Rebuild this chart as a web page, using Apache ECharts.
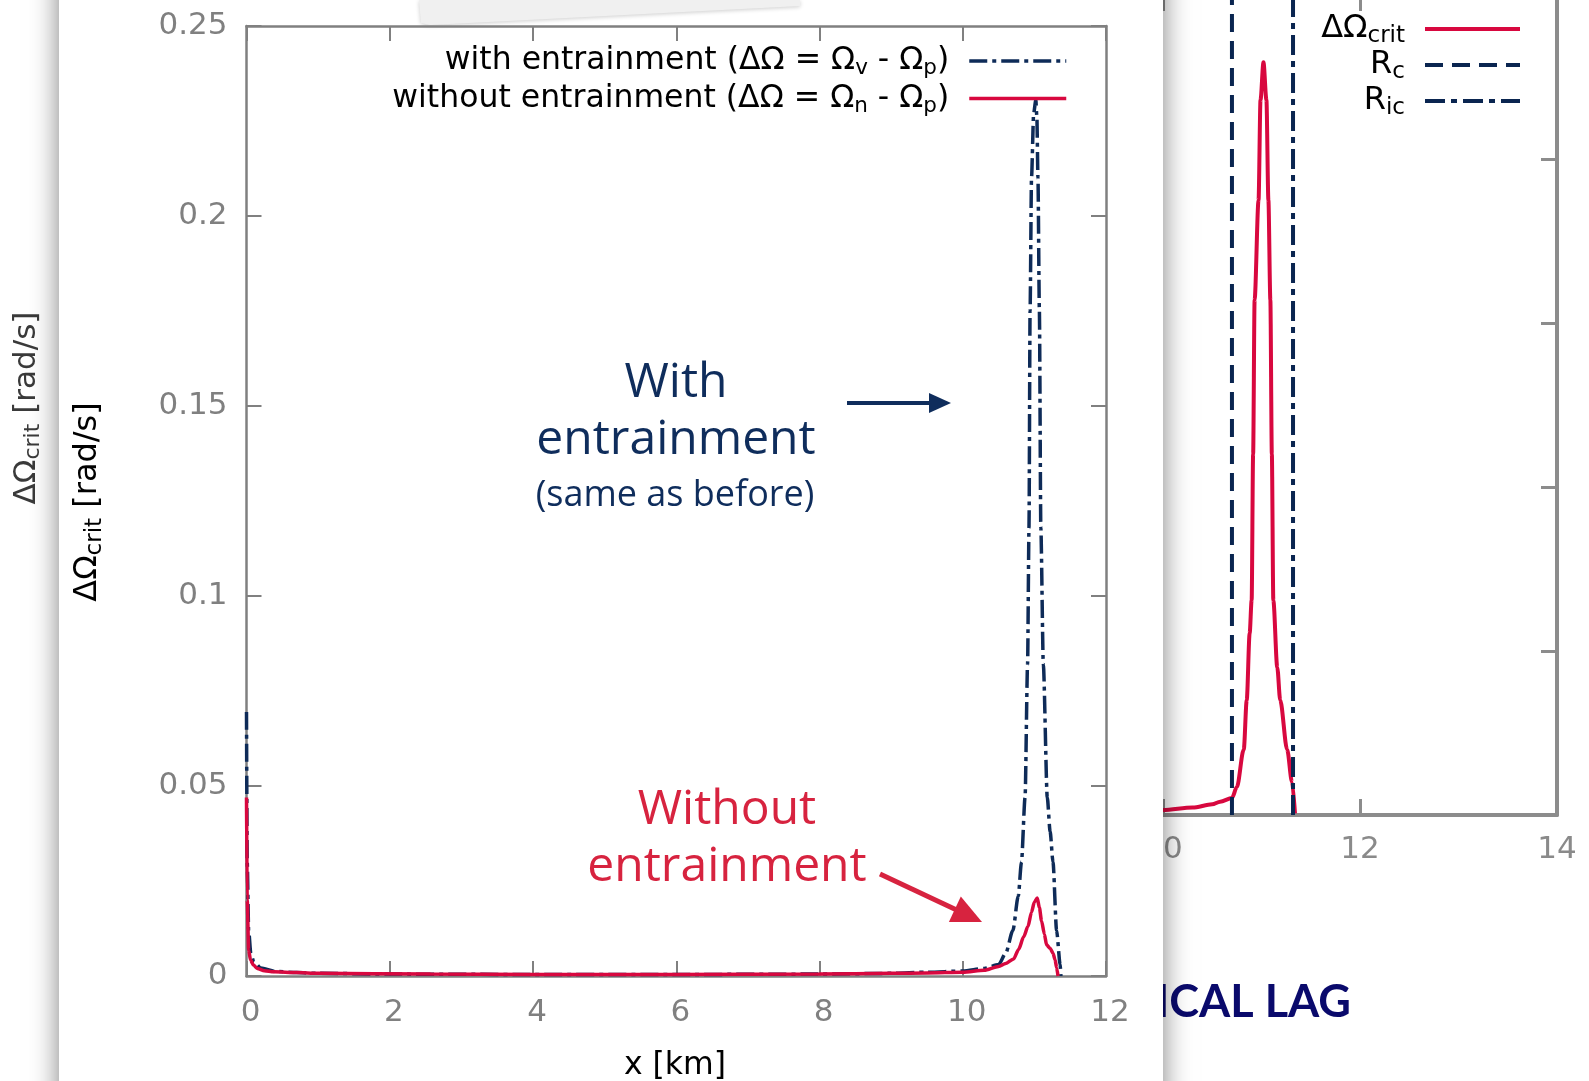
<!DOCTYPE html>
<html><head><meta charset="utf-8">
<script src="https://cdn.jsdelivr.net/npm/echarts@6/dist/echarts.min.js"></script>
<style>html,body{margin:0;padding:0;background:#fff;overflow:hidden}#c{width:1589px;height:1081px}</style>
</head><body><div id="c"></div>
<script>
// ---- data ----
const xTicks = [0, 2, 4, 6, 8, 10, 12];
const yTicks = [0, 0.05, 0.1, 0.15, 0.2, 0.25];
const bgXTicks = [8, 10, 12, 14];
const bgYTicks = [0, 1, 2, 3, 4, 5];

const withX = [0, 0.01, 0.03, 0.06, 0.1, 0.2, 0.4, 0.7, 1, 2, 4, 6, 8, 9, 9.5, 10, 10.3, 10.5, 10.6, 10.7, 10.775, 10.82, 10.87, 10.905, 10.925, 10.94, 10.96, 10.99, 11.02, 11.035, 11.05, 11.07, 11.09, 11.125, 11.18, 11.22, 11.26, 11.31, 11.36, 11.37];
const withY = [0.0695, 0.03, 0.012, 0.006, 0.0038, 0.0021, 0.0012, 0.0009, 0.0007, 0.0005, 0.0004, 0.0004, 0.0005, 0.0007, 0.001, 0.0013, 0.002, 0.003, 0.006, 0.012, 0.021, 0.03, 0.047, 0.082, 0.118, 0.175, 0.21, 0.227, 0.2305, 0.226, 0.21, 0.175, 0.118, 0.082, 0.047, 0.038, 0.03, 0.012, 0.003, 0];

const withoutX = [0, 0.01, 0.03, 0.056, 0.1, 0.15, 0.25, 0.38, 0.7, 1, 2.57, 4, 6, 8, 9, 9.5, 10, 10.3, 10.5, 10.6, 10.71, 10.78, 10.85, 10.91, 10.96, 11.0, 11.04, 11.07, 11.1, 11.14, 11.17, 11.22, 11.26, 11.29, 11.31, 11.33];
const withoutY = [0.047, 0.02, 0.0068, 0.0042, 0.0028, 0.002, 0.0014, 0.0011, 0.0009, 0.0007, 0.0005, 0.0004, 0.0004, 0.0005, 0.0007, 0.0008, 0.001, 0.0015, 0.0025, 0.0033, 0.0045, 0.007, 0.0103, 0.013, 0.0168, 0.0195, 0.0205, 0.018, 0.0145, 0.011, 0.0082, 0.0073, 0.006, 0.0042, 0.0022, 0];

// background slide chart (partly hidden)
const bgCritX = [8, 9, 10, 10.3, 10.5, 10.58, 10.7, 10.75, 10.82, 10.85, 10.88, 10.9, 10.915, 10.93, 10.97, 10.99, 11.02, 11.05, 11.07, 11.09, 11.105, 11.12, 11.16, 11.19, 11.26, 11.31, 11.34];
const bgCritY = [0.02, 0.025, 0.03, 0.045, 0.065, 0.081, 0.104, 0.17, 0.40, 0.70, 1.11, 1.31, 2.2, 3.14, 3.75, 4.36, 4.59, 4.36, 3.75, 3.14, 2.2, 1.31, 0.90, 0.70, 0.40, 0.20, 0.01];
const rcX = 10.70;
const ricX = 11.32;

const zip = (xs, ys) => xs.map((x, i) => [x, ys[i]]);
const step = a => a[1] - a[0];

const GRAY = '#808080';
const NAVY = '#0e2b58';
const RED = '#d8083f';
const DV = 'DejaVu Sans';
const TICK_FS = 31;

function axisBase(extra) {
  return Object.assign({
    type: 'value',
    axisLine: { show: true, onZero: false, lineStyle: { color: GRAY, width: 2.5 } },
    axisTick: { show: true, inside: true, length: 15, lineStyle: { color: GRAY, width: 2 } },
    axisLabel: { show: true, color: GRAY, fontSize: TICK_FS, fontFamily: DV, showMinLabel: true, showMaxLabel: true },
    splitLine: { show: false },
    z: 10
  }, extra);
}
function bgAxis(extra) {
  return Object.assign({
    type: 'value',
    axisLine: { show: true, onZero: false, lineStyle: { color: '#8c8c8c', width: 4 } },
    axisTick: { show: true, inside: true, length: 16, lineStyle: { color: '#8c8c8c', width: 3 } },
    axisLabel: { show: false },
    splitLine: { show: false },
    z: 0
  }, extra);
}

const subRich = (fs, pad) => ({ fontSize: fs, fontFamily: DV, color: '#000', padding: [pad, 0, 0, 0] });

const chart = echarts.init(document.getElementById('c'), null, { renderer: 'canvas' });

function arrow(x1, y1, x2, y2, shaftW, headL, headW, color, z) {
  const dx = x2 - x1, dy = y2 - y1, L = Math.hypot(dx, dy);
  const ux = dx / L, uy = dy / L, nx = -uy, ny = ux;
  const bx = x2 - ux * headL, by = y2 - uy * headL;
  return [
    { type: 'line', z: z, shape: { x1: x1, y1: y1, x2: bx + ux * 2, y2: by + uy * 2 }, style: { stroke: color, lineWidth: shaftW } },
    { type: 'polygon', z: z, shape: { points: [[x2, y2], [bx + nx * headW, by + ny * headW], [bx - nx * headW, by - ny * headW]] }, style: { fill: color } }
  ];
}

function txt(x, y, text, size, color, family, z, extra) {
  return Object.assign({
    type: 'text', x: x, y: y, z: z,
    style: { text: text, fontSize: size, fontFamily: family, fill: color,
             align: 'center', verticalAlign: 'middle', textAlign: 'center', textVerticalAlign: 'middle' }
  }, extra || {});
}

const option = {
  animation: false,
  backgroundColor: '#ffffff',
  grid: [
    { left: 246.5, right: 483, top: 26, bottom: 105, containLabel: false, outerBoundsMode: 'none' },
    { left: 966, right: 32, top: -5, bottom: 266, containLabel: false, outerBoundsMode: 'none' }
  ],
  xAxis: [
    axisBase({ gridIndex: 0, position: 'bottom', min: xTicks[0], max: xTicks[xTicks.length - 1], interval: step(xTicks),
               axisLabel: { color: GRAY, fontSize: TICK_FS, fontFamily: DV, margin: 21, padding: [0, 0, 0, 8], showMinLabel: true, showMaxLabel: true } }),
    axisBase({ gridIndex: 0, position: 'top', min: xTicks[0], max: xTicks[xTicks.length - 1], interval: step(xTicks), axisLabel: { show: false } }),
    bgAxis({ gridIndex: 1, position: 'bottom', min: bgXTicks[0], max: bgXTicks[bgXTicks.length - 1], interval: step(bgXTicks),
             axisLabel: { show: true, color: '#8a8a8a', fontSize: TICK_FS, fontFamily: DV, margin: 19, showMinLabel: true, showMaxLabel: true } }),
    bgAxis({ gridIndex: 1, position: 'top', min: bgXTicks[0], max: bgXTicks[bgXTicks.length - 1], interval: step(bgXTicks) })
  ],
  yAxis: [
    axisBase({ gridIndex: 0, position: 'left', min: yTicks[0], max: yTicks[yTicks.length - 1], interval: step(yTicks),
               axisLabel: { color: GRAY, fontSize: TICK_FS, fontFamily: DV, margin: 19, showMinLabel: true, showMaxLabel: true } }),
    axisBase({ gridIndex: 0, position: 'right', min: yTicks[0], max: yTicks[yTicks.length - 1], interval: step(yTicks), axisLabel: { show: false } }),
    bgAxis({ gridIndex: 1, position: 'left', min: bgYTicks[0], max: bgYTicks[bgYTicks.length - 1], interval: step(bgYTicks) }),
    bgAxis({ gridIndex: 1, position: 'right', min: bgYTicks[0], max: bgYTicks[bgYTicks.length - 1], interval: step(bgYTicks) })
  ],
  legend: [
    {
      data: ['with', 'without'], orient: 'vertical', right: 516, top: 40, align: 'right',
      itemWidth: 97, itemHeight: 12, itemGap: 3, selectedMode: false, z: 20,
      itemStyle: { opacity: 0 }, lineStyle: { width: 3.5 },
      formatter: n => n === 'with'
        ? '{t|with entrainment (ΔΩ = Ω}{s|v}{t| - Ω}{s|p}{t|)}'
        : '{t|without entrainment (ΔΩ = Ω}{s|n}{t| - Ω}{s|p}{t|)}',
      textStyle: { color: '#000', fontFamily: DV, fontSize: 31.5, padding: [0, 15, 0, 0],
        rich: { t: { fontSize: 31.5, fontFamily: DV, color: '#000' }, s: subRich(21.5, 15) } }
    },
    {
      data: ['bgCrit', 'bgRc', 'bgRic'], orient: 'vertical', right: 62, top: 8, align: 'right',
      itemWidth: 95, itemHeight: 12, itemGap: 1, selectedMode: false, z: 3,
      itemStyle: { opacity: 0 }, lineStyle: { width: 4 },
      formatter: n => n === 'bgCrit' ? '{t|ΔΩ}{s|crit}' : (n === 'bgRc' ? '{t|R}{s|c}' : '{t|R}{s|ic}'),
      textStyle: { color: '#000', fontFamily: DV, fontSize: 32, padding: [0, 15, 0, 0],
        rich: { t: { fontSize: 32, fontFamily: DV, color: '#000' }, s: subRich(23, 15) } }
    }
  ],
  series: [
    { name: 'bgCrit', type: 'line', xAxisIndex: 2, yAxisIndex: 2, data: zip(bgCritX, bgCritY), symbol: 'none', showSymbol: false,
      smooth: 0.3, smoothMonotone: 'x', lineStyle: { color: RED, width: 4 }, itemStyle: { color: RED }, z: 1 },
    { name: 'bgRc', type: 'line', xAxisIndex: 2, yAxisIndex: 2, data: [[rcX, bgYTicks[0]], [rcX, bgYTicks[bgYTicks.length - 1]]], symbol: 'none', showSymbol: false,
      lineStyle: { color: '#0a2550', width: 4, type: [18, 9] }, itemStyle: { color: '#0a2550' }, z: 1 },
    { name: 'bgRic', type: 'line', xAxisIndex: 2, yAxisIndex: 2, data: [[ricX, bgYTicks[0]], [ricX, bgYTicks[bgYTicks.length - 1]]], symbol: 'none', showSymbol: false,
      lineStyle: { color: '#0a2550', width: 4, type: [20, 6, 6, 6] }, itemStyle: { color: '#0a2550' }, z: 1 },
    { name: 'with', type: 'line', xAxisIndex: 0, yAxisIndex: 0, data: zip(withX, withY), symbol: 'none', showSymbol: false,
      smooth: 0.25, smoothMonotone: 'x', lineStyle: { color: NAVY, width: 3.5, type: [18, 5, 4, 5] }, itemStyle: { color: NAVY }, z: 11 },
    { name: 'without', type: 'line', xAxisIndex: 0, yAxisIndex: 0, data: zip(withoutX, withoutY), symbol: 'none', showSymbol: false,
      smooth: 0.25, smoothMonotone: 'x', lineStyle: { color: RED, width: 3.5 }, itemStyle: { color: RED }, z: 12 }
  ],
  graphic: { elements: [] }
};

const G = option.graphic.elements;
// background slide texts (under the card)
G.push({ type: 'text', x: 27, y: 408, z: 1, rotation: Math.PI / 2,
  style: { text: '{a|ΔΩ}{s|crit}{a| [rad/s]}', fontSize: 31, fontFamily: DV, fill: '#3a3a3a', align: 'center', verticalAlign: 'middle', textAlign: 'center', textVerticalAlign: 'middle',
    rich: { a: { fontSize: 31, fontFamily: DV, fill: '#3a3a3a', color: '#3a3a3a' }, s: { fontSize: 22, fontFamily: DV, fill: '#3a3a3a', color: '#3a3a3a', padding: [13, 0, 0, 0] } } } });
G.push({ type: 'text', x: 1156, y: 1002, z: 1,
  style: { text: 'ICAL LAG', fontSize: 45, fontWeight: 'bold', fontFamily: 'Lato', fill: '#0a0a6c', align: 'left', verticalAlign: 'middle', textAlign: 'left', textVerticalAlign: 'middle' } });
// foreground card
G.push({ type: 'rect', z: 5, shape: { x: 59, y: -80, width: 1104, height: 1250 },
  style: { fill: '#ffffff', shadowBlur: 26, shadowColor: 'rgba(0,0,0,0.5)', shadowOffsetX: 0, shadowOffsetY: 0 } });
// paper scrap at top
G.push({ type: 'polygon', z: 7, shape: { points: [[419, 0], [800, 0], [800, 6], [430, 25], [421, 23]] },
  style: { fill: '#f0f0f0', shadowBlur: 4, shadowColor: 'rgba(0,0,0,0.2)', shadowOffsetY: 1 } });
// axis titles of the foreground chart
G.push({ type: 'text', x: 88, y: 502, z: 20, rotation: Math.PI / 2,
  style: { text: '{a|ΔΩ}{s|crit}{a| [rad/s]}', fontSize: 32, fontFamily: DV, fill: '#000', align: 'center', verticalAlign: 'middle', textAlign: 'center', textVerticalAlign: 'middle',
    rich: { a: { fontSize: 32, fontFamily: DV, fill: '#000', color: '#000' }, s: { fontSize: 23, fontFamily: DV, fill: '#000', color: '#000', padding: [14, 0, 0, 0] } } } });
G.push(txt(675, 1066, 'x [km]', 31.5, '#000', DV, 20));
// annotations
const ANN = 'Open Sans';
G.push(txt(676, 383, 'With', 48, '#0f2d5c', ANN, 20));
G.push(txt(676, 440, 'entrainment', 48, '#0f2d5c', ANN, 20));
G.push(txt(675, 496, '(same as before)', 36, '#0f2d5c', ANN, 20));
arrow(847, 403, 951, 403, 4, 22, 10, '#0f2d5c', 20).forEach(e => G.push(e));
G.push(txt(727, 810, 'Without', 48, '#d7233f', ANN, 20));
G.push(txt(727, 867, 'entrainment', 48, '#d7233f', ANN, 20));
arrow(880, 874, 982, 922, 5, 30, 14, '#d7233f', 20).forEach(e => G.push(e));

chart.setOption(option);
</script>
</body></html>
